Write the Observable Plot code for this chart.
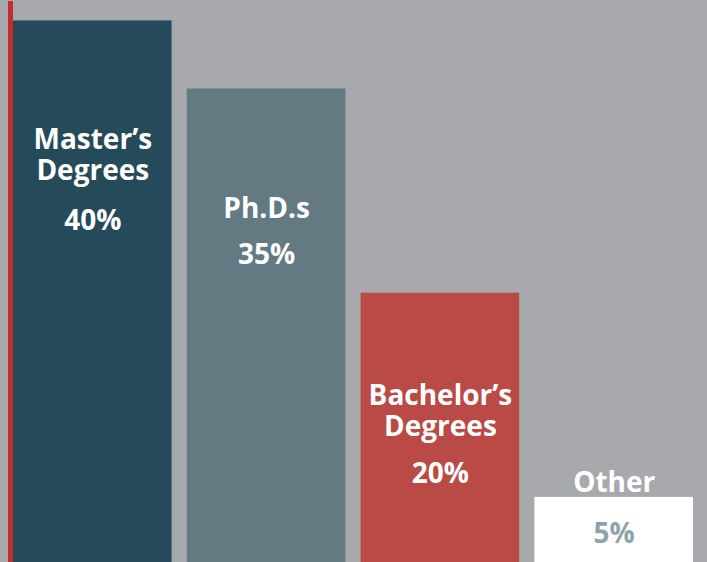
<!DOCTYPE html>
<html><head><meta charset="utf-8">
<script src="https://cdn.jsdelivr.net/npm/d3@7"></script>
<script src="https://cdn.jsdelivr.net/npm/@observablehq/plot@0.6"></script>
<style>html,body{margin:0;padding:0;background:#a8a9ad;overflow:hidden}</style>
</head><body><div id="chart"></div>
<script>
// Data
const categories = ["Master’s Degrees", "Ph.D.s", "Bachelor’s Degrees", "Other"];
const nameLabels = ["Master’s\nDegrees", "Ph.D.s", "Bachelor’s\nDegrees", "Other"];
const values = [40, 35, 20, 5];
const valueLabels = ["40%", "35%", "20%", "5%"];

// Styling / layout
const barColors = ["#254a5a", "#647a83", "#b94a45", "#ffffff"];
const pctColors = ["#ffffff", "#ffffff", "#ffffff", "#8fa3ad"];
const nameDy = [106, 107, 90, -27];
const pctDy = [189, 155, 170, 26];

const data = categories.map((c, i) => ({category: c, name: nameLabels[i], value: values[i], pct: valueLabels[i]}));

const font = {fontFamily: "'Open Sans', sans-serif", fontSize: 28, fontWeight: 700};

const marks = [
  Plot.barY(data, {x: "category", y: "value", fill: "category"}),
  (index, scales, values, dims) => {
    const g = d3.create("svg:rect")
      .attr("x", dims.marginLeft - 5)
      .attr("y", 1)
      .attr("width", 5)
      .attr("height", dims.height)
      .attr("fill", "#c22e29");
    return g.node();
  }
];
data.forEach((d, i) => {
  marks.push(Plot.text([d], {x: "category", y: "value", text: "name", dy: nameDy[i], lineAnchor: "top", lineHeight: 1.1, fill: "#ffffff", ...font}));
  marks.push(Plot.text([d], {x: "category", y: "value", text: "pct", dy: pctDy[i], lineAnchor: "top", fill: pctColors[i], ...font}));
});

const chart = Plot.plot({
  width: 707,
  height: 562,
  marginLeft: 13,
  marginRight: 14,
  marginTop: 0,
  marginBottom: -3,
  style: {background: "#a8a9ad", overflow: "hidden"},
  x: {domain: categories, paddingInner: 0.0875, paddingOuter: 0, round: false, axis: null},
  y: {domain: [0, 41.5], axis: null},
  color: {domain: categories, range: barColors},
  marks
});
document.getElementById("chart").appendChild(chart);
</script>
</body></html>
